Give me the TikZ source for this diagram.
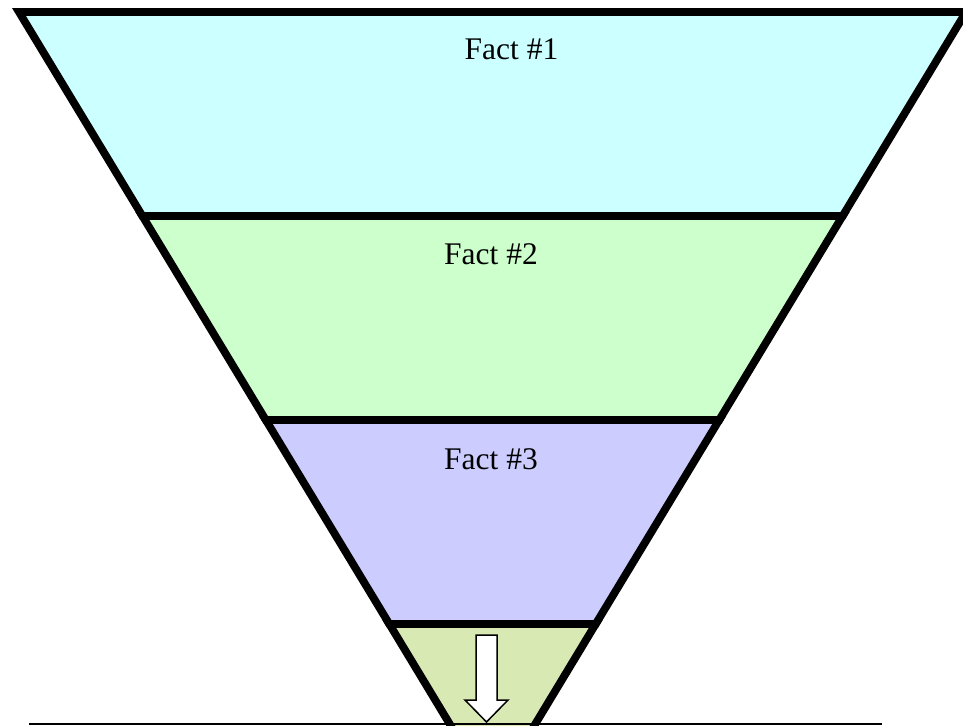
\documentclass[tikz,border=0pt]{standalone}
\usepackage{fontspec}
\setmainfont{Liberation Serif}
\definecolor{bandA}{HTML}{CCFFFF}
\definecolor{bandB}{HTML}{CCFFCC}
\definecolor{bandC}{HTML}{CCCCFF}
\definecolor{bandD}{HTML}{D8E9B4}
\definecolor{baseline}{HTML}{2E2E2E}
\begin{document}
\begin{tikzpicture}[x=1pt,y=-1pt,
  band/.style={draw=black,line width=7.8pt,line join=miter},
  facttext/.style={anchor=base,inner sep=0pt,font=\fontsize{31.5}{36}\selectfont},
  downarrow/.style={draw=black,fill=white,line width=1.5pt,line join=miter}]
\clip (0,0) rectangle (963,725);
\fill[white] (0,0) rectangle (963,725);
% bands
\path[band,fill=bandA] (19,12) -- (966,12) -- (842.6,216) -- (142.4,216) -- cycle;
\path[band,fill=bandB] (142.4,216) -- (842.6,216) -- (719.2,420) -- (265.8,420) -- cycle;
\path[band,fill=bandC] (265.8,420) -- (719.2,420) -- (595.7,624) -- (389.3,624) -- cycle;
\path[band,fill=bandD] (389.3,624) -- (595.7,624) -- (525.6,740) -- (459.4,740) -- cycle;
% arrow
\path[downarrow] (476,635) -- (497,635) -- (497,700) -- (508,700) -- (486.5,722)
  -- (465,700) -- (476,700) -- cycle;
% base line
\coordinate (lineL) at (29,723.8);
\coordinate (lineR) at (882,723.8);
\draw[baseline,line width=1.5pt] (lineL) -- (lineR);
% texts
\node[facttext] (f1) at (511.5,59.3) {Fact \#1};
\node[facttext] (f2) at (491,264.3) {Fact \#2};
\node[facttext] (f3) at (491,469.3) {Fact \#3};
\end{tikzpicture}
\end{document}
